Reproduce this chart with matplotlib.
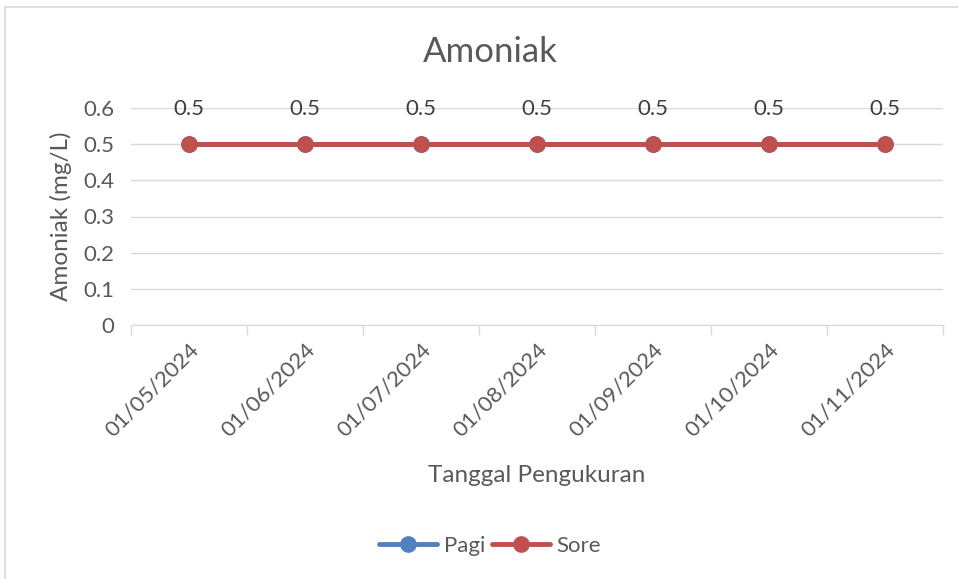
import matplotlib.pyplot as plt
import numpy as np

plt.rcParams['font.family'] = ['Lato', 'DejaVu Sans']

dates = ['01/05/2024', '01/06/2024', '01/07/2024', '01/08/2024',
         '01/09/2024', '01/10/2024', '01/11/2024']
pagi = [0.5, 0.5, 0.5, 0.5, 0.5, 0.5, 0.5]
sore = [0.5, 0.5, 0.5, 0.5, 0.5, 0.5, 0.5]
yticks = [0, 0.1, 0.2, 0.3, 0.4, 0.5, 0.6]

grey = '#595959'
grid = '#D9D9D9'

fig = plt.figure(figsize=(9.58, 5.79), dpi=100)
# chart border like the excel chart area
fig.patches.append(plt.Rectangle((5/958, -0.01), 1.0, 1.0 - 7/579 + 0.01,
                                 transform=fig.transFigure, fill=False,
                                 edgecolor='#D9D9D9', lw=1.2))

ax = fig.add_axes([131/958, 254/579, 812/958, 217/579])
x = np.arange(len(dates))

ax.plot(x, pagi, color='#4F81BD', lw=3.5, marker='o', ms=11, label='Pagi',
        solid_capstyle='round', zorder=3)
ax.plot(x, sore, color='#C0504D', lw=3.5, marker='o', ms=11, label='Sore',
        solid_capstyle='round', zorder=4)

for xi, v in zip(x, sore):
    ax.annotate(f'{v:g}', (xi, v), xytext=(0, 25), textcoords='offset points',
                ha='center', va='center', fontsize=16, color='#404040')

ax.set_xlim(-0.5, len(dates) - 0.5)
ax.set_ylim(0, 0.6)
ax.set_yticks(yticks)
ax.set_yticklabels([f'{t:g}' for t in yticks])
ax.yaxis.grid(True, color=grid, lw=1)
ax.set_axisbelow(True)

ax.set_xticks(x)
ax.set_xticklabels(dates, rotation=45, ha='right', rotation_mode='anchor')
ax.set_xticks(np.arange(len(dates) + 1) - 0.5, minor=True)
ax.tick_params(axis='x', which='major', length=0, pad=10, labelsize=16, colors=grey)
ax.tick_params(axis='x', which='minor', length=7, color=grid, width=1)
ax.tick_params(axis='y', length=0, pad=12, labelsize=16, colors=grey)

for s in ['top', 'right', 'left']:
    ax.spines[s].set_visible(False)
ax.spines['bottom'].set_color(grid)

ax.set_xlabel('Tanggal Pengukuran', fontsize=17.5, color=grey, labelpad=18)
ax.set_ylabel('Amoniak (mg/L)', fontsize=17.5, color=grey, labelpad=8)

fig.text(490/958, 1 - 52/579, 'Amoniak', ha='center', va='center',
         fontsize=25, color=grey)

fig.legend(loc='center', bbox_to_anchor=(490/958, 1 - 546/579), ncol=2,
           frameon=False, fontsize=16, labelcolor=grey, handlelength=2.6,
           columnspacing=0.3, handletextpad=0.3)

fig.savefig('out.png', dpi=100)
